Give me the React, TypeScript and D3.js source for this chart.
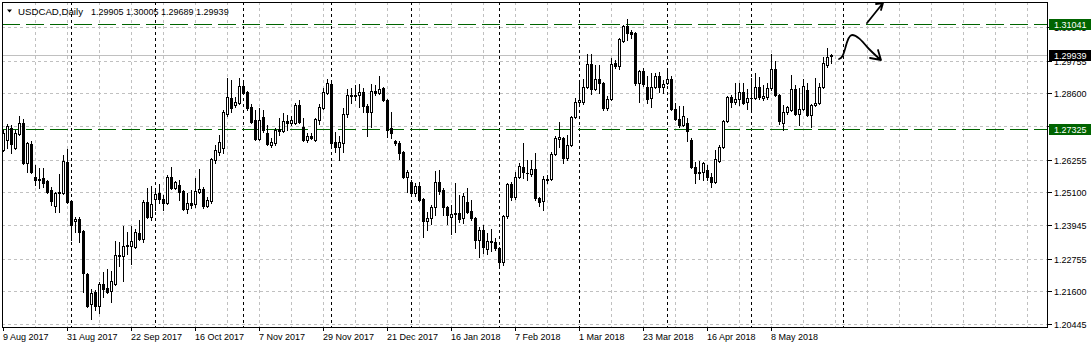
import React from "react";
import * as d3 from "d3";

// ---- data ----
const SYMBOL = "USDCAD,Daily";
const FIRST_DATE = "2017-08-09";
const HOLIDAYS = ["2017-12-25", "2018-01-01"];

const OPEN = [
  1.26588, 1.26941, 1.27365, 1.26659, 1.27153, 1.27541, 1.26129, 1.268, 1.25635, 1.25547,
  1.256, 1.25494, 1.25176, 1.24611, 1.2507, 1.2507, 1.26164, 1.24788, 1.24082, 1.24152,
  1.23729, 1.22211, 1.21152, 1.21575, 1.21081, 1.21858, 1.21717, 1.21611, 1.21858, 1.22864,
  1.22846, 1.23217, 1.23199, 1.23164, 1.23658, 1.23446, 1.24752, 1.24223, 1.24858, 1.2507,
  1.24858, 1.24717, 1.25635, 1.25247, 1.25352, 1.25141, 1.24505, 1.24717, 1.24682, 1.25105,
  1.25211, 1.24611, 1.24788, 1.26235, 1.26517, 1.26659, 1.27859, 1.28424, 1.28176, 1.28247,
  1.28847, 1.28635, 1.28106, 1.27647, 1.26976, 1.27753, 1.27188, 1.26764, 1.26835, 1.27329,
  1.27259, 1.27612, 1.27541, 1.27541, 1.28176, 1.274, 1.26941, 1.27082, 1.26941, 1.27647,
  1.28071, 1.286, 1.28918, 1.2687, 1.26694, 1.26835, 1.27859, 1.28512, 1.28529, 1.28529,
  1.28635, 1.28141, 1.27929, 1.28671, 1.286, 1.28777, 1.28353, 1.27365, 1.26906, 1.26835,
  1.26517, 1.25635, 1.25458, 1.2507, 1.25317, 1.24858, 1.24082, 1.24188, 1.24576, 1.25458,
  1.25176, 1.24576, 1.24223, 1.24346, 1.24364, 1.24188, 1.24752, 1.24435, 1.24188, 1.23411,
  1.23764, 1.23093, 1.2334, 1.2334, 1.23129, 1.22634, 1.24258, 1.25388, 1.24929, 1.25635,
  1.25988, 1.25794, 1.25741, 1.25917, 1.24894, 1.24788, 1.25547, 1.25564, 1.26447, 1.26976,
  1.27012, 1.26306, 1.26764, 1.27753, 1.28282, 1.28282, 1.28812, 1.29624, 1.28741, 1.29094,
  1.28953, 1.28071, 1.28388, 1.29659, 1.29553, 1.30436, 1.30965, 1.30753, 1.30718, 1.28953,
  1.29377, 1.28812, 1.28424, 1.28812, 1.292, 1.28812, 1.28953, 1.29094, 1.28035, 1.27682,
  1.2747, 1.27541, 1.26941, 1.25988, 1.25811, 1.25811, 1.25882, 1.25635, 1.25458, 1.262,
  1.26694, 1.27612, 1.28459, 1.28282, 1.28388, 1.28635, 1.28282, 1.28424, 1.28424, 1.28812,
  1.28424, 1.28459, 1.28777, 1.29447, 1.28529, 1.27541, 1.27929, 1.28, 1.28741, 1.27859,
  1.28035, 1.28706, 1.27823, 1.28176, 1.28247, 1.28812, 1.29588, 1.29905,
];
const HIGH = [
  1.27294, 1.27506, 1.2747, 1.27294, 1.27788, 1.27682, 1.2687, 1.26906, 1.26058, 1.25953,
  1.25953, 1.25529, 1.25282, 1.25105, 1.25741, 1.26411, 1.26623, 1.24823, 1.24223, 1.24223,
  1.23764, 1.22246, 1.21681, 1.21646, 1.21928, 1.22281, 1.22387, 1.22317, 1.23376, 1.2334,
  1.23905, 1.23693, 1.23905, 1.23799, 1.24117, 1.24823, 1.25247, 1.25317, 1.25176, 1.25388,
  1.24999, 1.25705, 1.25988, 1.25494, 1.25529, 1.25176, 1.2507, 1.25176, 1.256, 1.25917,
  1.25282, 1.24929, 1.26306, 1.26764, 1.27117, 1.28, 1.2913, 1.29059, 1.28459, 1.2913,
  1.29024, 1.28671, 1.28212, 1.28, 1.28071, 1.28, 1.2747, 1.27012, 1.27365, 1.27718,
  1.27894, 1.27823, 1.27788, 1.28247, 1.28353, 1.27718, 1.27188, 1.27188, 1.27718, 1.28212,
  1.28777, 1.29094, 1.29024, 1.27223, 1.27082, 1.28071, 1.28741, 1.28777, 1.28882, 1.28918,
  1.28777, 1.28212, 1.28918, 1.28882, 1.292, 1.28812, 1.28388, 1.27929, 1.26941, 1.26906,
  1.26553, 1.25882, 1.25529, 1.25423, 1.25458, 1.24894, 1.24399, 1.24646, 1.25847, 1.25882,
  1.25247, 1.24611, 1.24646, 1.25423, 1.24999, 1.2507, 1.25247, 1.24823, 1.24223, 1.2387,
  1.2394, 1.23658, 1.23799, 1.23482, 1.23164, 1.24293, 1.25423, 1.25458, 1.25811, 1.26129,
  1.26835, 1.26235, 1.26235, 1.26482, 1.24929, 1.2567, 1.25705, 1.26517, 1.27082, 1.27576,
  1.27047, 1.27117, 1.27788, 1.28424, 1.29059, 1.29094, 1.29977, 1.29977, 1.29588, 1.29588,
  1.28988, 1.28494, 1.29836, 1.29765, 1.30542, 1.31001, 1.31212, 1.30824, 1.30753, 1.29412,
  1.29483, 1.292, 1.29306, 1.29306, 1.29341, 1.29059, 1.29483, 1.292, 1.28247, 1.28141,
  1.28141, 1.27718, 1.27012, 1.26164, 1.262, 1.26164, 1.26058, 1.25776, 1.26588, 1.26764,
  1.27647, 1.28494, 1.28529, 1.28953, 1.28953, 1.28953, 1.28741, 1.2913, 1.29306, 1.29165,
  1.28882, 1.28953, 1.29977, 1.2973, 1.28565, 1.28176, 1.28141, 1.29235, 1.28882, 1.28777,
  1.29094, 1.28953, 1.28212, 1.2913, 1.28953, 1.29871, 1.30189, 1.30005,
];
const LOW = [
  1.26553, 1.26659, 1.26482, 1.26623, 1.27117, 1.26094, 1.25811, 1.25776, 1.25352, 1.25247,
  1.25282, 1.2507, 1.24646, 1.24399, 1.24399, 1.25035, 1.24717, 1.23411, 1.23693, 1.2334,
  1.21575, 1.21046, 1.20622, 1.2094, 1.20834, 1.21399, 1.2154, 1.21222, 1.21822, 1.22493,
  1.21964, 1.22917, 1.22564, 1.23129, 1.23411, 1.2334, 1.24188, 1.24117, 1.2447, 1.24717,
  1.2447, 1.24682, 1.25211, 1.25211, 1.24823, 1.2447, 1.24364, 1.24541, 1.24576, 1.2507,
  1.24541, 1.24576, 1.24717, 1.26129, 1.26411, 1.26482, 1.27788, 1.27929, 1.28106, 1.28212,
  1.28565, 1.28, 1.27541, 1.26941, 1.26941, 1.27223, 1.26764, 1.26694, 1.26764, 1.27117,
  1.27223, 1.27294, 1.2747, 1.27506, 1.27541, 1.26906, 1.2687, 1.26976, 1.26906, 1.27506,
  1.28035, 1.28565, 1.26764, 1.26517, 1.26235, 1.26517, 1.27753, 1.28247, 1.28353, 1.28106,
  1.27929, 1.27082, 1.274, 1.28529, 1.28565, 1.28318, 1.27047, 1.27012, 1.26764, 1.2627,
  1.256, 1.25105, 1.25035, 1.24964, 1.24788, 1.23517, 1.23764, 1.23976, 1.24293, 1.25035,
  1.24293, 1.23976, 1.23623, 1.23693, 1.24046, 1.24011, 1.24364, 1.24117, 1.23129, 1.22811,
  1.22952, 1.22917, 1.23023, 1.23058, 1.22458, 1.22528, 1.24188, 1.24823, 1.24858, 1.256,
  1.256, 1.25529, 1.2567, 1.24823, 1.24611, 1.2447, 1.25423, 1.25529, 1.26411, 1.26694,
  1.26129, 1.26235, 1.26729, 1.27718, 1.28212, 1.28212, 1.28777, 1.28565, 1.28706, 1.286,
  1.28, 1.28, 1.28353, 1.29483, 1.29447, 1.304, 1.30471, 1.30542, 1.28882, 1.28282,
  1.28847, 1.28247, 1.28106, 1.28777, 1.28635, 1.286, 1.28918, 1.28, 1.27647, 1.274,
  1.27435, 1.26906, 1.25953, 1.25423, 1.25564, 1.25529, 1.25529, 1.25282, 1.25423, 1.26164,
  1.26659, 1.27576, 1.28106, 1.28212, 1.28176, 1.28212, 1.28035, 1.28, 1.28388, 1.28388,
  1.28353, 1.28388, 1.28706, 1.28494, 1.27506, 1.27294, 1.27859, 1.27965, 1.27823, 1.2747,
  1.28, 1.27788, 1.274, 1.28141, 1.28212, 1.28777, 1.29518, 1.29689,
];
const CLOSE = [
  1.27188, 1.27435, 1.268, 1.27188, 1.27541, 1.26129, 1.26835, 1.25811, 1.25529, 1.25564,
  1.25423, 1.25123, 1.24788, 1.2507, 1.25105, 1.262, 1.24752, 1.2394, 1.24152, 1.23693,
  1.22246, 1.21081, 1.2154, 1.21081, 1.21858, 1.21681, 1.21575, 1.21964, 1.22881, 1.22881,
  1.23199, 1.23234, 1.23376, 1.23693, 1.23446, 1.24752, 1.24223, 1.24682, 1.25035, 1.24858,
  1.24717, 1.25635, 1.25247, 1.25458, 1.25105, 1.24505, 1.24717, 1.24646, 1.25141, 1.25211,
  1.24611, 1.24823, 1.2627, 1.26588, 1.2687, 1.27929, 1.28459, 1.28071, 1.28282, 1.28847,
  1.286, 1.28071, 1.27576, 1.26976, 1.27647, 1.27294, 1.268, 1.2687, 1.27294, 1.27259,
  1.27612, 1.27541, 1.27647, 1.28176, 1.27576, 1.26941, 1.27082, 1.27012, 1.27682, 1.28106,
  1.28635, 1.28953, 1.26835, 1.26694, 1.2687, 1.27859, 1.28529, 1.28529, 1.28512, 1.28635,
  1.28141, 1.27929, 1.28671, 1.286, 1.28741, 1.28353, 1.27294, 1.27188, 1.26835, 1.26482,
  1.25635, 1.25811, 1.2507, 1.25317, 1.24823, 1.24082, 1.24188, 1.24576, 1.25458, 1.25141,
  1.24576, 1.24293, 1.24329, 1.24364, 1.24152, 1.24964, 1.24399, 1.24188, 1.23411, 1.23764,
  1.23164, 1.23376, 1.23376, 1.23129, 1.22634, 1.24258, 1.25388, 1.24929, 1.25635, 1.26023,
  1.25811, 1.25776, 1.25917, 1.24894, 1.24752, 1.25564, 1.25564, 1.26447, 1.27012, 1.27047,
  1.26306, 1.26764, 1.27753, 1.28282, 1.28353, 1.28812, 1.29624, 1.28741, 1.29094, 1.28953,
  1.28071, 1.28388, 1.29624, 1.29553, 1.30506, 1.30965, 1.30718, 1.30683, 1.28953, 1.29377,
  1.28918, 1.28388, 1.28812, 1.292, 1.28812, 1.28918, 1.29094, 1.28035, 1.27682, 1.2747,
  1.27788, 1.27259, 1.25988, 1.25776, 1.25794, 1.26129, 1.25635, 1.25458, 1.2627, 1.26694,
  1.27612, 1.28459, 1.28282, 1.28388, 1.28635, 1.28247, 1.28424, 1.28441, 1.28812, 1.28459,
  1.28494, 1.28777, 1.29447, 1.28529, 1.27612, 1.27929, 1.28106, 1.28741, 1.27859, 1.28035,
  1.28847, 1.27823, 1.28176, 1.28247, 1.28812, 1.29659, 1.29871, 1.29939,
];

const PRICE_TICKS = [1.20445, 1.216, 1.22755, 1.23945, 1.251, 1.26255, 1.27445, 1.286, 1.29755, 1.30945];
const LEVELS = [1.31041, 1.27325];
const LAST_PRICE = 1.29939;
const LABEL_EVERY = 16;
const GRID_EVERY = 8;

// ---- layout ----
const W = 1091;
const H = 348;
const L = 2;
const T = 2;
const R = 1048;
const B = 327;
const FONT = "'Liberation Sans', Arial, sans-serif";
const FS = 9;

function tradingDays(start: string, n: number, holidays: string[]) {
  const out: Date[] = [];
  const d = new Date(start + "T00:00:00Z");
  while (out.length < n) {
    const wd = d.getUTCDay();
    const iso = d.toISOString().slice(0, 10);
    if (wd !== 0 && wd !== 6 && !holidays.includes(iso)) out.push(new Date(d));
    d.setUTCDate(d.getUTCDate() + 1);
  }
  return out;
}

export default function App() {
  const n = CLOSE.length;
  const dates = tradingDays(FIRST_DATE, n + 3, HOLIDAYS);
  const x = d3.scaleLinear().domain([0, 1]).range([3.5, 7.5]);
  const y = d3.scaleLinear().domain([PRICE_TICKS[0], PRICE_TICKS[PRICE_TICKS.length - 1]]).range([324, 27]);
  const fmtDate = d3.utcFormat("%-d %b %Y");
  const py = (p: number) => Math.round(y(p));

  const maxIdx = Math.floor(x.invert(R));
  const gridIdx = d3.range(GRID_EVERY, maxIdx + 1, GRID_EVERY);
  const sepIdx = d3.range(1, dates.length).filter((i) => dates[i].getUTCMonth() !== dates[i - 1].getUTCMonth());
  const labelIdx = d3.range(0, n, LABEL_EVERY);

  const candles = d3.range(n).map((i) => {
    const o = OPEN[i], h = HIGH[i], l = LOW[i], c = CLOSE[i];
    const cx = Math.round(x(i) - 0.5);
    const yH = py(h), yL = py(l);
    const top = py(Math.max(o, c)), bot = py(Math.min(o, c));
    const bull = c >= o;
    return (
      <g key={i}>
        <rect x={cx} y={yH} width={1} height={yL - yH + 1} fill="#000" />
        {bot - top < 1 ? (
          <rect x={cx - 1} y={top} width={3} height={1} fill="#000" />
        ) : (
          <rect x={cx - 0.5} y={top + 0.5} width={2} height={bot - top} fill={bull ? "#fff" : "#000"} stroke="#000" strokeWidth={1} />
        )}
      </g>
    );
  });

  const ohlc = [OPEN[n - 1], HIGH[n - 1], LOW[n - 1], CLOSE[n - 1]].map((v) => v.toFixed(5)).join(" ");

  return (
    <div style={{ position: "absolute", left: 0, top: 0 }}>
      <style>{`body{margin:0}`}</style>
      <svg width={W} height={H} style={{ display: "block", background: "#fff" }} fontFamily={FONT} fontSize={FS}>
        <rect x={0} y={0} width={W} height={H} fill="#fff" />
        {/* grid */}
        {PRICE_TICKS.map((t) => (
          <line key={"h" + t} x1={L} x2={R} y1={py(t) + 0.5} y2={py(t) + 0.5} stroke="#c0c0c0" strokeDasharray="3,3" />
        ))}
        {gridIdx.map((i) => (
          <line key={"v" + i} x1={Math.round(x(i) - 0.5) + 0.5} x2={Math.round(x(i) - 0.5) + 0.5} y1={T} y2={B} stroke="#c0c0c0" strokeDasharray="3,3" />
        ))}
        {/* period separators */}
        {sepIdx.map((i) => (
          <line key={"s" + i} x1={Math.round(x(i) - 0.5) + 0.5} x2={Math.round(x(i) - 0.5) + 0.5} y1={T} y2={B} stroke="#000" strokeDasharray="3,3" />
        ))}
        {/* bid line */}
        <line x1={L} x2={R} y1={py(LAST_PRICE) + 0.5} y2={py(LAST_PRICE) + 0.5} stroke="#c0c0c0" />
        {/* horizontal levels */}
        {LEVELS.map((p) => (
          <line key={"l" + p} x1={L} x2={R} y1={py(p) + 0.5} y2={py(p) + 0.5} stroke="#006400" strokeDasharray="18,6" />
        ))}
        {candles}
        {/* hand-drawn arrows */}
        <g fill="none" stroke="#000" strokeWidth={1.8} strokeLinecap="round" strokeLinejoin="round">
          <path d="M867,23 L883,3 M876,4 L883,3 L881,10" />
          <path d="M839,59 C842,58 843,56 845,49 C847,41 849,35 852,35 C857,35 862,41 868,48 C873,53 877,57 881,60 M878,50 L881,60 L870,58" />
        </g>
        {/* frame */}
        <rect x={L + 0.5} y={T + 0.5} width={R - L - 1} height={B - T} fill="none" stroke="#000" />
        {/* price axis */}
        {PRICE_TICKS.map((t) => (
          <g key={"pt" + t}>
            <line x1={R} x2={R + 4} y1={py(t) + 0.5} y2={py(t) + 0.5} stroke="#000" />
            <text x={1054} y={py(t) + 4} fill="#000">{t.toFixed(5)}</text>
          </g>
        ))}
        {LEVELS.map((p) => (
          <g key={"lb" + p}>
            <rect x={1049} y={py(p) - 5} width={W - 1049} height={11} fill="#006400" />
            <text x={1054} y={py(p) + 4} fill="#fff">{p.toFixed(5)}</text>
          </g>
        ))}
        <rect x={1049} y={py(LAST_PRICE) - 5} width={W - 1049} height={11} fill="#000" />
        <text x={1054} y={py(LAST_PRICE) + 4} fill="#fff">{LAST_PRICE.toFixed(5)}</text>
        {/* time axis */}
        {labelIdx.map((i) => (
          <g key={"tl" + i}>
            <line x1={Math.round(x(i) - 0.5) + 0.5} x2={Math.round(x(i) - 0.5) + 0.5} y1={B} y2={B + 4} stroke="#000" />
            <text x={Math.round(x(i)) - 1} y={340} fill="#000">{fmtDate(dates[i])}</text>
          </g>
        ))}
        {/* header */}
        <path d="M7,9.5 L12,9.5 L9.5,12.5 Z" fill="#000" />
        <text x={18} y={14.5} fill="#000" textLength={65} lengthAdjust="spacingAndGlyphs">{SYMBOL}</text>
        <text x={91} y={14.5} fill="#000">{ohlc}</text>
      </svg>
    </div>
  );
}
